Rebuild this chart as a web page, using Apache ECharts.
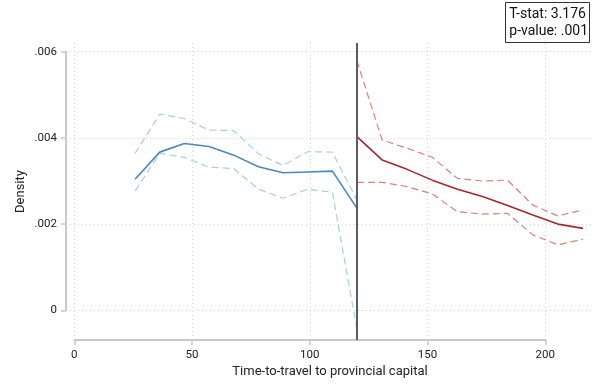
<!DOCTYPE html>
<html>
<head>
<meta charset="utf-8">
<script src="https://cdn.jsdelivr.net/npm/echarts@6/dist/echarts.min.js"></script>
<style>
html,body{margin:0;padding:0;background:#fff;}
#chart{width:597px;height:385px;}
</style>
</head>
<body>
<div id="chart"></div>
<script>
// ---- data ----
const xBelow = [25.8, 36.3, 46.7, 57.2, 67.7, 78.2, 88.6, 99.1, 109.6, 120.0];
const fitBelow = [0.00304, 0.00367, 0.00387, 0.00380, 0.00360, 0.00333, 0.00319, 0.00321, 0.00323, 0.00237];
const upperBelow = [0.00364, 0.00455, 0.00445, 0.00418, 0.00417, 0.00363, 0.00336, 0.00368, 0.00367, 0.00256];
const lowerBelow = [0.00277, 0.00364, 0.00355, 0.00332, 0.00329, 0.00281, 0.00260, 0.00281, 0.00274, -0.00044];

const xAbove = [120.0, 130.7, 141.3, 152.0, 162.7, 173.3, 184.0, 194.7, 205.3, 216.0];
const fitAbove = [0.00403, 0.00349, 0.00327, 0.00302, 0.00281, 0.00264, 0.00243, 0.00221, 0.00200, 0.00190];
const upperAbove = [0.00579, 0.00395, 0.00376, 0.00355, 0.00306, 0.00300, 0.00302, 0.00244, 0.00219, 0.00233];
const lowerAbove = [0.00297, 0.00297, 0.00287, 0.00270, 0.00229, 0.00223, 0.00225, 0.00175, 0.00152, 0.00165];

const cutoff = 120;
const xTickMin = 0, xTickMax = 200, xTickStep = 50;
const yTickMin = 0, yTickMax = 0.006, yTickStep = 0.002;
const tStat = '3.176';
const pValue = '.001';
const xTitle = 'Time-to-travel to provincial capital';
const yTitle = 'Density';

// ---- styling / layout ----
const FONT = "Roboto, 'Liberation Sans', sans-serif";
const AXIS_COLOR = '#c9c9c9';
const GRID_COLOR = '#d4d4d4';
const BLUE = '#4a88c2', BLUE_LIGHT = '#a7cde8';
const RED = '#a8262e', RED_LIGHT = '#de8170';

// pixel frame of the plot region and of the tick ranges
const px = {plotL: 74.3, plotR: 594, plotT: 43, plotB: 340,
            tickXR: 545.3, tickYT: 51.7, tickYB: 310.3, yAxisX: 66, W: 597, H: 385};
// data extent of the full plot region, derived from the tick-range frame
const xPerPx = (xTickMax - xTickMin) / (px.tickXR - px.plotL);
const yPerPx = (yTickMax - yTickMin) / (px.tickYB - px.tickYT);
const dataXMax = xTickMin + (px.plotR - px.plotL) * xPerPx;
const dataYMax = yTickMax + (px.tickYT - px.plotT) * yPerPx;
const dataYMin = yTickMin - (px.plotB - px.tickYB) * yPerPx;

function pair(xs, ys) { return xs.map((x, i) => [x, ys[i]]); }
function yFmt(v) { return Math.abs(v) < 1e-12 ? '0' : v.toFixed(3).replace(/^0/, ''); }

const chart = echarts.init(document.getElementById('chart'), null, {renderer: 'canvas'});

const hidden = {axisLine: {show: false}, axisTick: {show: false}, axisLabel: {show: false}, splitLine: {show: false}};

const option = {
  animation: false,
  backgroundColor: '#fff',
  textStyle: {fontFamily: FONT},
  grid: [
    // 0: data grid = full plot region
    {left: px.plotL, right: px.W - px.plotR, top: px.plotT, bottom: px.H - px.plotB},
    // 1: x axis (tick range horizontally, full plot height)
    {left: px.plotL, right: px.W - px.tickXR, top: px.plotT, bottom: px.H - px.plotB},
    // 2: y axis (tick range vertically, full plot width)
    {left: px.yAxisX, right: px.W - px.plotR, top: px.tickYT, bottom: px.H - px.tickYB}
  ],
  xAxis: [
    Object.assign({gridIndex: 0, type: 'value', min: xTickMin, max: dataXMax}, hidden),
    {
      gridIndex: 1, type: 'value', min: xTickMin, max: xTickMax, interval: xTickStep,
      axisLine: {show: true, onZero: false, lineStyle: {color: AXIS_COLOR, width: 2}},
      axisTick: {show: true, length: 5, lineStyle: {color: AXIS_COLOR, width: 1.5}},
      axisLabel: {show: true, margin: 9, color: '#222', fontSize: 11.5, fontFamily: FONT},
      splitLine: {show: true, lineStyle: {color: GRID_COLOR, width: 1, type: [1, 3]}}
    },
    Object.assign({gridIndex: 2, type: 'value', min: 0, max: 1,
      name: xTitle, nameLocation: 'middle', nameGap: 55,
      nameTextStyle: {fontSize: 13, color: '#222', fontFamily: FONT}}, hidden)
  ],
  yAxis: [
    Object.assign({gridIndex: 0, type: 'value', min: dataYMin, max: dataYMax,
      name: yTitle, nameLocation: 'middle', nameGap: 47,
      nameTextStyle: {fontSize: 13, color: '#222', fontFamily: FONT}}, hidden),
    Object.assign({gridIndex: 1, type: 'value', min: 0, max: 1}, hidden),
    {
      gridIndex: 2, type: 'value', min: yTickMin, max: yTickMax, interval: yTickStep,
      axisLine: {show: true, onZero: false, lineStyle: {color: AXIS_COLOR, width: 2}},
      axisTick: {show: true, length: 5, lineStyle: {color: AXIS_COLOR, width: 1.5}},
      axisLabel: {show: true, margin: 9, color: '#222', fontSize: 11.5, fontFamily: FONT, formatter: yFmt},
      splitLine: {show: true, lineStyle: {color: GRID_COLOR, width: 1, type: [1, 3]}}
    }
  ],
  graphic: [
    {
      type: 'rect', right: 7, top: 2, z: 10,
      shape: {x: 0, y: 0, width: 84, height: 40},
      style: {fill: '#fff', stroke: '#333', lineWidth: 1}
    },
    {
      type: 'text', right: 9, top: 6, z: 11,
      style: {
        text: 'T-stat: ' + tStat + '\np-value: ' + pValue,
        align: 'right', fill: '#111', font: '14px ' + FONT, lineHeight: 17
      }
    }
  ],
  series: [
    {type: 'line', xAxisIndex: 0, yAxisIndex: 0, showSymbol: false, symbol: 'none',
     data: pair(xBelow, upperBelow), lineStyle: {color: BLUE_LIGHT, width: 1.2, type: [7, 4]}},
    {type: 'line', xAxisIndex: 0, yAxisIndex: 0, showSymbol: false, symbol: 'none',
     data: pair(xBelow, lowerBelow), lineStyle: {color: BLUE_LIGHT, width: 1.2, type: [7, 4]}},
    {type: 'line', xAxisIndex: 0, yAxisIndex: 0, showSymbol: false, symbol: 'none',
     data: pair(xAbove, upperAbove), lineStyle: {color: RED_LIGHT, width: 1.2, type: [7, 4]}},
    {type: 'line', xAxisIndex: 0, yAxisIndex: 0, showSymbol: false, symbol: 'none',
     data: pair(xAbove, lowerAbove), lineStyle: {color: RED_LIGHT, width: 1.2, type: [7, 4]}},
    {type: 'line', xAxisIndex: 0, yAxisIndex: 0, showSymbol: false, symbol: 'none',
     data: pair(xBelow, fitBelow), lineStyle: {color: BLUE, width: 1.6},
     markLine: {
       silent: true, symbol: 'none', label: {show: false},
       lineStyle: {color: '#5c5c5c', width: 2, type: 'solid'},
       data: [{xAxis: cutoff}]
     }},
    {type: 'line', xAxisIndex: 0, yAxisIndex: 0, showSymbol: false, symbol: 'none',
     data: pair(xAbove, fitAbove), lineStyle: {color: RED, width: 1.6}}
  ]
};
chart.setOption(option);
</script>
</body>
</html>
